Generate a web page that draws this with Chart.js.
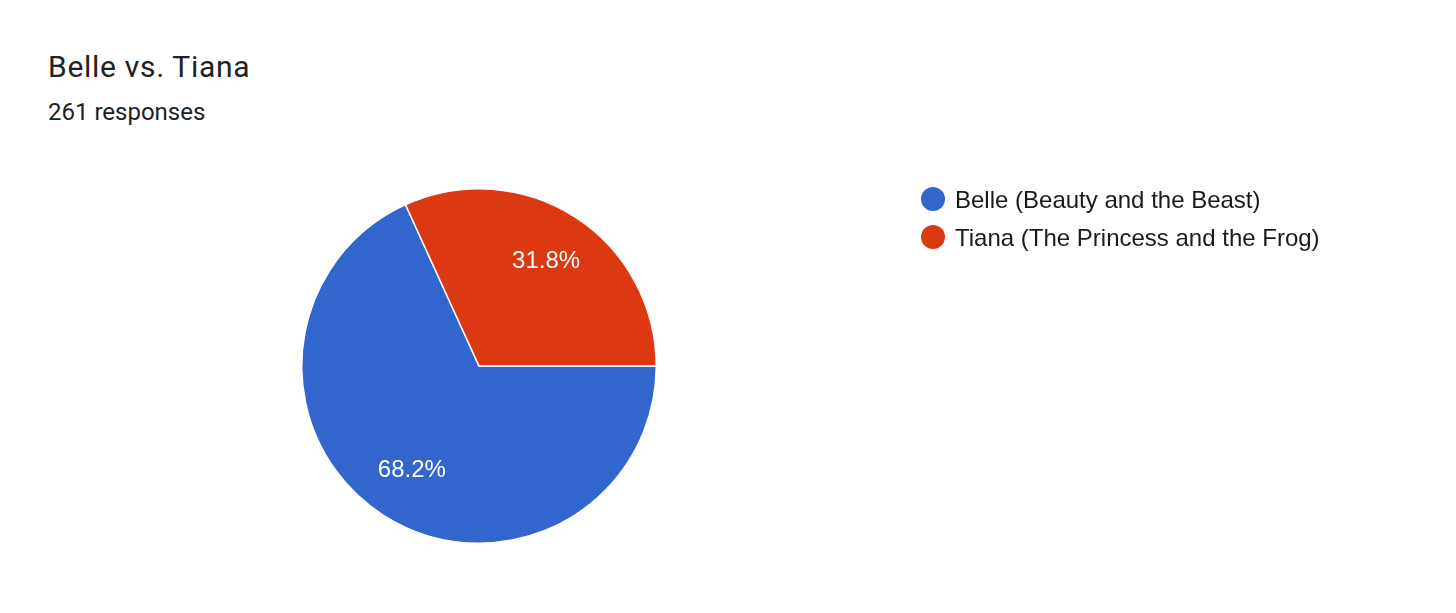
<!DOCTYPE html>
<html>
<head>
<meta charset="utf-8">
<script src="https://cdn.jsdelivr.net/npm/chart.js@4.4.0/dist/chart.umd.min.js"></script>
<style>
    html, body { margin: 0; padding: 0; background: #fff; }
    #wrap { position: relative; width: 1456px; height: 613px; overflow: hidden; }
    #title { position: absolute; left: 48px; top: 49px; font: 30px Roboto, sans-serif; letter-spacing: 0.7px; color: #202124; }
    #subtitle { position: absolute; left: 48px; top: 98px; font: 24px Roboto, sans-serif; color: #202124; }
    canvas { position: absolute; left: 0; top: 0; }
</style>
</head>
<body>
<div id="wrap">
    <div id="title">Belle vs. Tiana</div>
    <div id="subtitle">261 responses</div>
    <canvas id="pieChart" width="1456" height="613"></canvas>
</div>
<script>
const labels = ['Belle (Beauty and the Beast)', 'Tiana (The Princess and the Frog)'];
const counts = [178, 83];
const colors = ['#3366cc', '#dc3912'];

// percentage labels inside the slices
const sliceLabels = {
    id: 'sliceLabels',
    afterDatasetsDraw(chart) {
        const ctx = chart.ctx;
        const meta = chart.getDatasetMeta(0);
        const total = counts.reduce((a, b) => a + b, 0);
        ctx.save();
        ctx.fillStyle = '#ffffff';
        ctx.font = '24px "Liberation Sans", Arial, sans-serif';
        ctx.textAlign = 'center';
        ctx.textBaseline = 'middle';
        meta.data.forEach((arc, i) => {
            const mid = (arc.startAngle + arc.endAngle) / 2;
            const r = arc.outerRadius * 0.7;
            const pct = (counts[i] / total * 100).toFixed(1) + '%';
            ctx.fillText(pct, arc.x + Math.cos(mid) * r, arc.y + Math.sin(mid) * r);
        });
        ctx.restore();
    }
};

// legend on the right
const sideLegend = {
    id: 'sideLegend',
    afterDraw(chart) {
        const ctx = chart.ctx;
        ctx.save();
        ctx.font = '24px "Liberation Sans", Arial, sans-serif';
        ctx.textBaseline = 'alphabetic';
        labels.forEach((label, i) => {
            const cy = 199 + i * 38;
            ctx.fillStyle = colors[i];
            ctx.beginPath();
            ctx.arc(933, cy, 12, 0, Math.PI * 2);
            ctx.fill();
            ctx.fillStyle = '#1a1a1a';
            ctx.fillText(label, 955, cy + 9);
        });
        ctx.restore();
    }
};

new Chart(document.getElementById('pieChart'), {
    type: 'pie',
    data: {
        labels: labels,
        datasets: [{
            data: counts,
            backgroundColor: colors,
            borderColor: '#ffffff',
            borderWidth: 1.5
        }]
    },
    options: {
        responsive: false,
        animation: false,
        rotation: 90,
        layout: { padding: { left: 301, right: 799, top: 188, bottom: 69 } },
        plugins: {
            legend: { display: false },
            tooltip: { enabled: false }
        }
    },
    plugins: [sliceLabels, sideLegend]
});
</script>
</body>
</html>
